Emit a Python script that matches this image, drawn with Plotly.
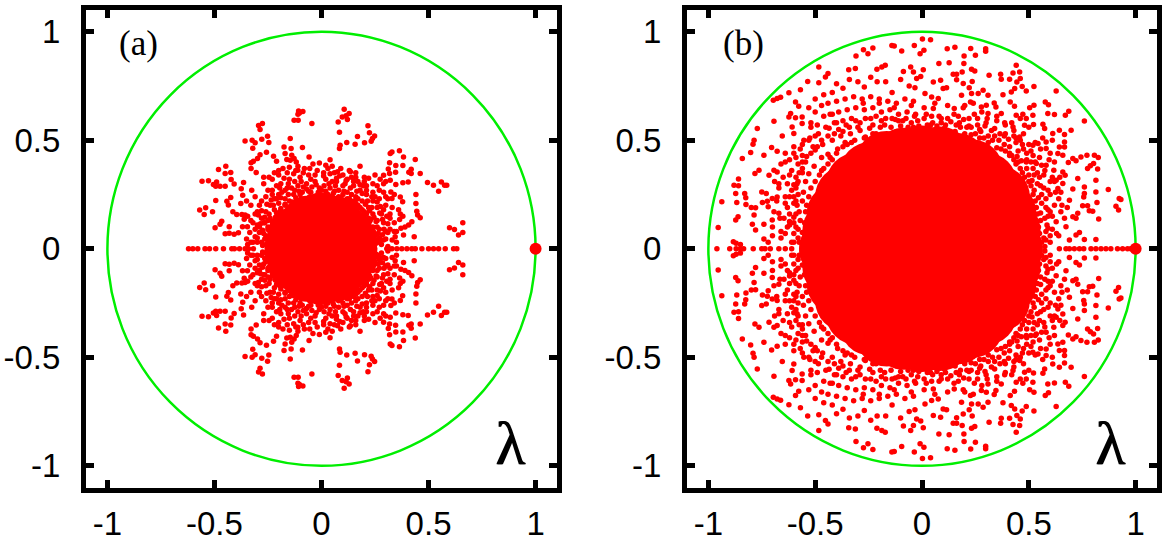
import plotly.graph_objects as go
from plotly.subplots import make_subplots

tick_vals = [-1, -0.5, 0, 0.5, 1]
tick_labels = ["-1", "-0.5", "0", "0.5", "1"]
leading = [(1.0, 0)]

# eigenvalues come in conjugate pairs, so only the upper half is listed for each panel
a_real_axis = [-.621, -.601, -.578, -.544, -.523, -.494, -.458, -.419, -.407, -.383, -.357, -.341, -.318,
               .305, .329, .352, .375, .399, .422, .438, .469, .5, .523, .547, .578, .617, .632]
a_upper = [
    (-.107, .635), (-.087, .632), (-.103, .626), (-.11, .62), (-.128, .592), (-.109, .592), (-.045, .577),
    (.106, .643), (.129, .623), (.097, .607), (.115, .613), (.121, .595), (.078, .584), (.084, .537),
    (.217, .567), (.224, .535), (.248, .52), (.238, .508), (.232, .495), (.168, .517), (.201, .488),
    (.118, .489), (.087, .477), (.084, .462), (.157, .482),
    (-.276, .577), (-.294, .568), (-.287, .55), (-.357, .497), (-.324, .5), (-.31, .488), (-.279, .504),
    (-.252, .518), (-.246, .489), (-.321, .463), (-.257, .445), (-.287, .433), (-.318, .403), (-.299, .416),
    (-.329, .396), (-.224, .426), (-.21, .403), (-.175, .469), (-.17, .439), (-.146, .508), (-.142, .462),
    (-.089, .466), (-.058, .423), (-.139, .431), (-.128, .416), (-.146, .408), (-.118, .4), (-.162, .411),
    (-.111, .362),
    (-.481, .365), (-.447, .38), (-.45, .347), (-.424, .351), (-.422, .319), (-.408, .298), (-.558, .311),
    (-.528, .313), (-.505, .296), (-.49, .308), (-.494, .288), (-.474, .288), (-.45, .288), (-.364, .305),
    (-.375, .277), (-.368, .247), (-.494, .222), (-.424, .236), (-.442, .219), (-.435, .201), (-.377, .209),
    (-.326, .27), (-.305, .351), (-.329, .37),
    (-.569, .178), (-.541, .189), (-.548, .158), (-.509, .17), (-.466, .127), (-.474, .113), (-.497, .097),
    (-.431, .101), (-.414, .17), (-.396, .158), (-.361, .136), (-.372, .158), (-.357, .155), (-.45, .069),
    (-.431, .071), (-.408, .067), (-.388, .074), (-.369, .101), (-.346, .101),
    (.321, .439), (.329, .446), (.364, .451), (.383, .423), (.438, .411), (.318, .396), (.347, .383),
    (.312, .368), (.38, .383), (.346, .353), (.318, .347), (.419, .366), (.408, .353), (.461, .347),
    (.419, .347), (.274, .32), (.29, .339), (.321, .316), (.347, .296), (.38, .304), (.405, .308),
    (.495, .305), (.523, .293), (.547, .265), (.56, .307), (.575, .292), (.585, .292),
    (.441, .25), (.441, .209), (.368, .239), (.379, .216), (.324, .262), (.329, .232), (.445, .173),
    (.461, .143), (.449, .155), (.368, .16), (.365, .135), (.422, .124), (.407, .109), (.371, .094),
    (.383, .063), (.433, .055), (.344, .055),
    (.598, .097), (.621, .089), (.66, .12), (.66, .075), (.64, .063),
    (-.33, .03), (-.345, .02), (-.35, .045), (-.335, .075), (-.31, .09), (-.32, .03), (-.31, .055),
    (-.02, .36), (.03, .37), (.06, .35), (-.06, .34), (-.1, .33), (.1, .34), (.14, .33), (.17, .31),
    (-.15, .32), (-.19, .3), (.21, .29), (.24, .26), (-.23, .27), (-.26, .24), (.27, .23), (.3, .2),
    (-.29, .2), (-.31, .16), (.32, .16), (.34, .12), (-.32, .12), (-.33, .13), (.35, .08), (.33, .04),
    (-.3, .05), (-.04, .39), (.01, .35), (.05, .38), (.09, .37), (.13, .36), (.16, .35), (.2, .33),
    (.26, .29), (.29, .26), (.31, .23), (.33, .19), (.36, .18), (.34, .08), (.32, .09),
    (-.08, .37), (-.12, .36), (-.16, .35), (-.2, .34), (-.23, .32), (-.27, .3), (-.31, .24),
    (-.33, .2), (-.3, .17), (-.28, .14), (-.29, .1), (-.27, .07), (-.28, .03), (-.26, .02),
    (-.03, .31), (.02, .32), (.07, .31), (.11, .3), (.15, .29), (.18, .27), (.21, .25), (.24, .22),
    (.26, .19), (.28, .16), (.29, .12), (.3, .08), (.29, .04), (.28, .02), (.31, .01),
    (-.07, .3), (-.11, .29), (-.14, .28), (-.17, .27), (-.2, .25), (-.22, .23), (-.24, .2), (-.26, .17),
    (-.27, .12), (-.25, .09), (-.01, .28), (.04, .28), (.08, .27), (.12, .26), (.16, .24), (.19, .22),
    (.22, .19), (.24, .16), (.26, .13), (.27, .09), (.27, .05), (-.05, .26), (-.09, .26), (-.13, .25),
    (-.17, .23), (-.2, .21), (-.22, .18), (-.24, .14), (-.25, .1), (-.24, .05), (.25, .06), (.24, .1),
    (.22, .14), (.2, .17), (.16, .21), (.12, .23), (.08, .24), (.03, .25), (-.02, .24),
    (.23, .03), (.255, .025), (.245, .075), (.26, .1), (.215, .115), (.23, .135), (.2, .155), (.225, .175),
    (.18, .19), (.205, .205), (.15, .205), (.17, .23), (.125, .215), (.14, .25), (.09, .235), (.105, .265),
    (.055, .255), (.065, .29), (.02, .265), (.035, .3), (-.015, .26), (-.025, .295), (-.055, .24), (-.07, .275),
    (-.095, .23), (-.105, .265), (-.135, .215), (-.155, .25), (-.17, .2), (-.19, .235), (-.195, .17), (-.225, .2),
    (-.215, .145), (-.245, .16), (-.23, .11), (-.265, .12), (-.24, .07), (-.275, .085), (-.24, .035), (-.265, .045),
    (.285, .065), (.31, .115), (.275, .195), (.25, .24), (.195, .29), (.22, .325), (.12, .32), (.085, .335),
    (.04, .345), (-.03, .34), (-.085, .35), (-.13, .345), (-.175, .325), (-.21, .29), (-.25, .27), (-.28, .22),
    (-.295, .155), (-.3, .11), (-.345, .15), (-.35, .22), (-.27, .33), (-.22, .35), (-.18, .37), (-.01, .395),
    (.04, .41), (.18, .38), (.25, .34), (.3, .31), (.34, .25), (.38, .15), (.39, .1), (.35, .03), (.32, .14), (.29, .3),
    (.262, .03), (.275, .042), (.265, .07), (.292, .09), (.255, .125), (.285, .135), (.245, .145), (.272, .165),
    (.235, .19), (.26, .215), (.215, .22), (.235, .24), (.19, .255), (.21, .27), (.165, .265), (.18, .295),
    (.135, .28), (.15, .31), (.1, .29), (.115, .315), (.07, .325), (.05, .31), (.012, .29), (.01, .335),
    (-.045, .285), (-.05, .32), (-.085, .285), (-.095, .31), (-.125, .27), (-.125, .31), (-.16, .28), (-.155, .3),
    (-.185, .26), (-.195, .28), (-.21, .23), (-.23, .25), (-.235, .225), (-.255, .205), (-.25, .13), (-.28, .175),
    (-.265, .145), (-.285, .115), (-.26, .06), (-.29, .075), (-.275, .015), (-.3, .03), (.3, .045), (.31, .075),
    (.305, .15), (.29, .18), (.3, .24), (.27, .27), (.24, .3), (.2, .31), (.16, .33), (.135, .355), (.075, .355),
    (.02, .385), (-.055, .37), (-.11, .38), (-.15, .375), (-.2, .36), (-.245, .33),
    (.19, .18), (.17, .2), (.21, .16), (-.19, .185), (-.17, .205), (-.21, .165), (.225, .125), (-.23, .125),
    (.24, .085), (.25, .04), (-.25, .03), (-.245, .085), (.13, .23), (.1, .25), (-.12, .235), (-.1, .25),
    (.06, .265), (-.06, .265), (0, .27), (.15, .22), (-.15, .22), (.205, .135),
]
# the middle of each cloud is solid red, single points cannot be read there
a_core = [(0, 0), (.125, 0), (-.13, 0), (.108, .062), (-.113, .065), (.062, .11), (-.058, .112), (0, .125)]

b_real_axis = [-.96, -.9, -.87, -.85, -.835, -.79, -.75, -.735, -.71, -.67, -.64, -.61,
               .643, .674, .69, .713, .737, .757, .791, .814, .838, .861, .884, .915, .939, .962, .977]
b_upper = [
    (-.141, .937), (-.13, .934), (-.23, .925), (-.274, .917), (-.253, .899), (-.309, .888), (-.172, .845),
    (-.188, .837), (-.211, .827), (-.343, .825), (-.312, .83), (-.483, .837), (-.44, .807), (-.452, .791),
    (-.535, .771), (-.483, .765), (-.569, .733), (-.623, .719), (-.662, .698), (-.678, .692), (-.696, .684),
    (-.592, .676), (-.577, .656), (-.693, .587), (-.771, .554), (-.615, .623), (-.623, .607), (-.592, .604),
    (-.561, .607), (-.561, .577), (-.608, .561), (-.654, .52), (-.6, .531), (-.553, .5), (-.786, .5),
    (-.791, .482), (-.802, .443), (-.841, .416), (-.704, .466), (-.74, .431), (-.678, .449), (-.763, .362),
    (-.782, .347), (-.693, .362), (-.716, .339), (-.678, .354), (-.859, .321), (-.88, .293), (-.859, .29),
    (-.872, .255), (-.83, .255), (-.825, .235), (-.937, .216), (-.867, .213), (-.824, .204), (-.799, .19),
    (-.779, .189), (-.861, .147), (-.872, .132), (-.954, .098), (-.786, .155), (-.794, .113), (-.747, .213),
    (-.724, .219), (-.701, .232), (-.678, .239), (-.75, .262), (-.729, .255), (-.72, .193), (-.693, .17),
    (-.67, .163), (-.646, .14), (-.74, .113), (-.701, .132), (-.779, .086), (-.883, .032), (-.85, .02),
    (-.87, .025), (-.74, .045), (-.7, .06), (-.72, .03), (-.66, .08), (-.63, .1), (-.6, .12),
    (-.4, .76), (-.37, .74), (-.34, .78), (-.3, .77), (-.27, .745), (-.24, .79), (-.21, .77), (-.17, .77),
    (-.14, .72), (-.1, .78), (-.06, .75), (-.42, .72), (-.46, .71), (-.5, .69), (-.53, .65), (-.5, .63),
    (-.47, .66), (-.44, .67), (-.4, .68), (-.36, .69), (-.32, .7), (-.28, .69), (-.24, .7), (-.2, .69),
    (-.16, .68), (-.12, .67), (-.08, .69), (-.04, .68), (-.46, .61), (-.43, .62), (-.39, .63), (-.35, .64),
    (-.31, .65), (-.27, .64), (-.23, .65), (-.19, .63), (-.15, .64), (-.11, .62), (-.07, .63), (-.03, .62),
    (-.52, .58), (-.49, .57), (-.45, .56), (-.41, .58), (-.37, .59), (-.33, .6), (-.6, .47), (-.57, .46),
    (-.64, .44), (-.62, .41), (-.66, .39), (-.59, .42), (-.56, .43), (-.53, .5), (-.5, .52),
    (-.69, .31), (-.65, .33), (-.63, .3), (-.61, .36), (-.67, .28), (-.64, .24), (-.61, .27), (-.6, .21),
    (-.63, .19), (-.59, .16), (-.62, .16), (-.6, .07), (-.58, .31), (-.56, .37),
    (.002, .966), (.04, .963), (-.036, .937), (.009, .914), (-.009, .899), (-.095, .911), (.118, .922),
    (.154, .928), (.228, .923), (.298, .922), (.298, .91), (.25, .891), (.197, .888), (.079, .853),
    (.127, .857), (.196, .853), (.441, .845), (.232, .827), (.247, .819), (.426, .81), (.457, .814),
    (.314, .799), (.368, .804), (.371, .781), (.41, .781), (.46, .784), (.444, .768), (.146, .804),
    (.162, .804), (.188, .814), (-.053, .837), (-.04, .814), (.006, .825), (-.087, .817), (-.025, .784),
    (-.006, .794), (.053, .768), (.087, .776), (.162, .779), (.193, .761), (.235, .771), (.469, .748),
    (.524, .748), (.434, .738), (.418, .722), (.488, .727), (.628, .727), (.286, .73), (.309, .707),
    (.379, .71), (.263, .715), (.221, .742), (.232, .715), (.185, .707), (.115, .742), (.099, .738),
    (-.033, .742), (.045, .699), (.076, .692), (.014, .715), (.577, .676), (.592, .664), (.524, .661),
    (.504, .65), (.413, .676), (.433, .656), (.338, .672), (.346, .653), (.301, .661), (.278, .653),
    (.227, .676), (.193, .65), (.151, .646), (.053, .646), (.687, .633), (.671, .615), (.62, .618),
    (.589, .623), (.76, .589), (.472, .62), (.519, .615), (.441, .615), (.371, .623), (.309, .623),
    (.522, .572), (.488, .6), (.566, .574), (.574, .554), (.698, .546), (.643, .546), (.667, .526),
    (.612, .531), (.48, .569), (.426, .561), (.387, .58), (.34, .554), (.457, .515), (.519, .477),
    (.543, .485), (.581, .492), (.667, .492), (.667, .469), (.643, .469), (.581, .462), (.636, .439),
    (.659, .431), (.706, .416), (.744, .423), (.772, .431), (.807, .431), (.825, .42), (.685, .397),
    (.721, .405), (.803, .393), (.788, .382), (.775, .37), (.822, .367), (.488, .4), (.535, .393),
    (.581, .385), (.617, .362), (.659, .354), (.67, .339), (.729, .324), (.814, .316), (.76, .285),
    (.706, .275), (.628, .316), (.659, .301), (.636, .278), (.69, .224), (.872, .273), (.923, .232),
    (.931, .227), (.908, .196), (.92, .178), (.814, .262), (.76, .255), (.757, .239), (.819, .213),
    (.752, .198), (.775, .198), (.799, .173), (.783, .175), (.729, .163), (.827, .137), (.721, .14),
    (.706, .147), (.667, .14), (.674, .101), (.628, .124), (.737, .075), (.721, .063), (.69, .04),
    (.76, .043), (.814, .043), (.64, .06), (.61, .09), (.65, .17), (.62, .2), (.6, .17), (.6, .25),
    (.64, .23), (.6, .31), (.57, .34), (.55, .42), (.51, .45), (.47, .48), (.43, .52), (.39, .53),
    (.3, .58), (.26, .6), (.22, .6), (.17, .61), (.12, .6), (.08, .61), (.02, .62), (-.02, .59), (.35, .61),
    (-.56, .35), (-.59, .28), (-.6, .24), (-.62, .11), (-.6, .03), (-.56, .4), (-.52, .44), (-.49, .47),
    (-.44, .52), (-.39, .55), (-.34, .56), (-.29, .58), (-.24, .6), (-.19, .59), (-.14, .6), (-.09, .59),
    (-.05, .58), (.05, .58), (.11, .57), (.16, .57), (.21, .56), (.27, .55), (.31, .52), (.36, .5), (.41, .47),
    (.45, .45), (.49, .41), (.52, .37), (.55, .33), (.57, .28), (.58, .23), (.59, .15), (.58, .08), (.6, .03),
    (.56, .03), (.57, .05), (.585, .11), (.555, .13), (.61, .15), (.58, .19), (.56, .21), (.625, .26), (.59, .27),
    (.555, .29), (.61, .33), (.575, .36), (.54, .35), (.63, .07), (.6, .06), (.655, .2), (.62, .31), (.645, .33),
    (.65, .26), (.68, .19), (.59, .095), (.56, .385), (.53, .4), (.595, .41), (.52, .43), (.555, .46), (.49, .44),
    (.5, .48), (.53, .49), (.46, .5), (.475, .53), (.44, .49), (.43, .545), (.405, .505), (.39, .57), (.365, .53),
    (.42, .58), (.35, .59), (.325, .545), (.6, .44), (.62, .4), (.565, .51), (.61, .5), (.5, .56), (.46, .6),
    (.295, .565), (.305, .6), (.26, .57), (.245, .62), (.22, .565), (.195, .595), (.18, .56), (.15, .62),
    (.135, .585), (.105, .555), (.09, .6), (.07, .565), (.045, .61), (.025, .57), (.01, .6), (.28, .63),
    (.12, .66), (.2, .66), (.01, .65), (.06, .67), (.24, .67),
    (-.015, .565), (-.035, .61), (-.065, .56), (-.075, .6), (-.1, .565), (-.125, .595), (-.145, .56), (-.17, .6),
    (-.195, .56), (-.215, .61), (-.245, .555), (-.265, .6), (-.29, .545), (-.31, .59), (-.05, .66), (-.13, .65),
    (-.2, .67), (-.275, .67), (-.335, .53), (-.355, .57), (-.38, .52), (-.4, .58), (-.42, .5), (-.435, .555),
    (-.465, .48), (-.485, .53), (-.5, .455), (-.525, .51), (-.54, .425), (-.56, .48), (-.58, .39), (-.6, .44),
    (-.52, .56), (-.42, .62), (-.64, .4), (-.59, .33), (-.62, .34), (-.6, .295), (-.58, .25), (-.62, .24),
    (-.585, .2), (-.64, .21), (-.6, .145), (-.57, .13), (-.62, .125), (-.58, .09), (-.64, .07), (-.58, .05),
    (-.61, .03), (-.665, .14), (-.67, .3), (-.68, .22), (-.66, .05), (-.7, .1),
    (.545, .02), (.55, .07), (.545, .1), (.555, .165), (.535, .19), (.545, .235), (.525, .27), (.515, .315),
    (.5, .34), (.49, .37), (.465, .405), (.445, .425), (.41, .44), (.385, .48), (.35, .465), (.33, .5), (.29, .51),
    (.25, .53), (.2, .53), (.155, .54), (.125, .53), (.085, .54), (.03, .54), (-.03, .54), (-.08, .53), (-.12, .54),
    (-.165, .525), (-.215, .53), (-.265, .515), (-.315, .5), (-.36, .49), (-.395, .46), (-.44, .435), (-.47, .42),
    (-.505, .38), (-.53, .345), (-.545, .31), (-.555, .26), (-.56, .22), (-.545, .17), (-.55, .12), (-.56, .075),
    (-.555, .02), (.575, .01), (.58, .04), (.575, .14), (.59, .18), (.56, .25), (.54, .3), (.525, .34), (.51, .4),
    (.475, .46), (.44, .51), (.385, .52), (.34, .52), (.275, .54), (.23, .56), (.175, .58), (.09, .58), (.04, .57),
    (-.04, .56), (-.11, .59), (-.175, .57), (-.23, .57), (-.3, .56), (-.37, .54), (-.41, .53), (-.47, .5),
    (-.51, .47), (-.545, .4), (-.575, .35), (-.585, .3), (-.59, .22), (-.575, .17), (-.59, .1), (-.575, .03),
    (.46, .37), (.44, .39), (.47, .35), (.43, .41), (.41, .43), (.39, .45), (.37, .46), (.48, .33), (.5, .31),
    (.51, .29), (.52, .25), (.53, .22), (-.46, .37), (-.44, .39), (-.48, .34), (-.42, .41), (-.4, .44), (-.37, .47),
    (-.5, .31), (-.52, .28), (-.53, .24), (-.54, .2), (-.35, .48), (-.33, .49), (.54, .16), (.53, .13), (.31, .49),
    (.27, .51), (.23, .525), (-.27, .51), (-.23, .53), (-.47, .36), (.45, .4), (.42, .43), (-.43, .42),
]
b_core = [(0, 0), (.14, 0), (-.14, 0), (.28, 0), (-.28, 0), (0, .14), (.1, .1), (-.1, .1), (.2, .2), (-.2, .2),
          (0, .28), (.3, .12), (-.3, .12), (.12, .28), (-.12, .28),
          (.42, 0), (.41, .084), (.39, .165), (.36, .239), (.3, .3), (.235, .36), (.165, .39), (.085, .42), (0, .425),
          (-.085, .415), (-.165, .4), (-.24, .35), (-.305, .3), (-.355, .24), (-.395, .16), (-.415, .085), (-.43, 0)]


def conjugate_pairs(upper, real_axis):
    # mirror the listed points across the real axis
    xs = [p[0] for p in upper] + [p[0] for p in upper] + real_axis
    ys = [p[1] for p in upper] + [-p[1] for p in upper] + [0] * len(real_axis)
    return xs, ys


def add_panel(fig, col, upper, real_axis, core, core_size, letter, letter_x):
    xs, ys = conjugate_pairs(upper, real_axis)
    core_x, core_y = conjugate_pairs(core, [])
    fig.add_trace(go.Scatter(x=core_x, y=core_y, mode="markers",
                             marker=dict(color="#ff0000", size=core_size)), row=1, col=col)
    fig.add_trace(go.Scatter(x=xs, y=ys, mode="markers",
                             marker=dict(color="#ff0000", size=5.5)), row=1, col=col)
    fig.add_trace(go.Scatter(x=[leading[0][0]], y=[leading[0][1]], mode="markers",
                             marker=dict(color="#ff0000", size=12)), row=1, col=col)
    name = "x" if col == 1 else "x2"
    yname = "y" if col == 1 else "y2"
    fig.add_shape(type="circle", xref=name, yref=yname, x0=-1, x1=1, y0=-1, y1=1,
                  line=dict(color="#00ee00", width=2.5), layer="below")
    fig.add_annotation(x=letter_x, y=0.947, xref=name, yref=yname, text=letter, showarrow=False,
                       font=dict(family="Liberation Serif", size=35, color="black"))
    fig.add_annotation(x=0.88, y=-0.894, xref=name, yref=yname, text="λ", showarrow=False,
                       font=dict(family="Liberation Serif", size=62, color="black", shadow="1px 0px 0px black"))


fig = make_subplots(rows=1, cols=2)
add_panel(fig, 1, a_upper, a_real_axis, a_core, 58, "(a)", -0.857)
add_panel(fig, 2, b_upper, b_real_axis, b_core, 62, "(b)", -0.836)

axis_style = dict(range=[-1.1, 1.1], tickmode="array", tickvals=tick_vals, ticktext=tick_labels,
                  ticks="inside", ticklen=8, tickwidth=5, tickcolor="black", showline=True,
                  linecolor="black", linewidth=5, mirror="allticks", showgrid=False, zeroline=False,
                  automargin=False, tickfont=dict(family="Liberation Sans", size=33, color="black"))
fig.update_xaxes(axis_style, ticklabelstandoff=3)
fig.update_yaxes(axis_style, ticklabelstandoff=14)
fig.update_layout(
    width=1162, height=546, showlegend=False, plot_bgcolor="white", paper_bgcolor="white",
    margin=dict(l=0, r=0, t=0, b=0),
    xaxis=dict(domain=[86 / 1162, 557 / 1162]),
    xaxis2=dict(domain=[687 / 1162, 1157 / 1162]),
    yaxis=dict(domain=[1 - 487.5 / 546, 1 - 10 / 546]),
    yaxis2=dict(domain=[1 - 487.5 / 546, 1 - 10 / 546]),
)
# drop the page's default body margin so the figure sits at the window corner
fig.write_html("out.html", config=dict(displayModeBar=False),
               post_script="document.body.style.margin = '0';")
